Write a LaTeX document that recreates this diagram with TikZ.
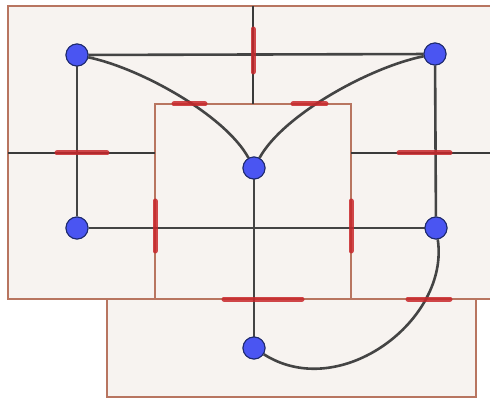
\documentclass[tikz,border=0pt]{standalone}
\begin{document}
\begin{tikzpicture}[x=1pt,y=-1pt,
  region/.style={fill=bgfill,draw=rectline,line width=1.1pt},
  thinline/.style={draw=thinc,line width=1.1pt},
  edge/.style={draw=edgec,line width=2.6pt},
  tick/.style={draw=tickc,line width=5pt,line cap=round,opacity=0.85},
  vtx/.style={circle,fill=vblue,draw=vborder,line width=1pt,minimum size=22pt,inner sep=0pt}]
\definecolor{bgfill}{HTML}{F7F3F0}
\definecolor{rectline}{HTML}{B87560}
\definecolor{thinc}{HTML}{3A3A3A}
\definecolor{edgec}{HTML}{444444}
\definecolor{tickc}{HTML}{C8272B}
\definecolor{vblue}{HTML}{4A55F2}
\definecolor{vborder}{HTML}{1E2A6E}
\useasboundingbox (0,0) rectangle (490,398);
\clip (0,0) rectangle (490,398);
% regions
\draw[region] (8,6) rectangle (500,299);
\draw[region] (107,299) rectangle (476,397);
\draw[region] (155,104) rectangle (351,299);
% thin boundary lines
\draw[thinline] (253,6) -- (253,104);
\draw[thinline] (8,153) -- (155,153);
\draw[thinline] (351,153) -- (500,153);
% vertices
\node[vtx] (A) at (77,55) {};
\node[vtx] (B) at (435,54) {};
\node[vtx] (C) at (254,168) {};
\node[vtx] (D) at (77,228) {};
\node[vtx] (E) at (436,228) {};
\node[vtx] (F) at (254,348) {};
% edges
\draw[edge] (A) -- (B);
\draw[edge] (A) -- (D);
\draw[edge] (B) -- (E);
\draw[edge] (D) -- (E);
\draw[edge] (C) -- (F);
\draw[edge] (A) .. controls (140,68) and (225,115) .. (C);
\draw[edge] (B) .. controls (370,67) and (283,115) .. (C);
\draw[edge] (E) .. controls (450,320) and (340,403) .. (F);
% red ticks
\draw[tick] (253,29) -- (253,72);
\draw[tick] (174,104) -- (205,104);
\draw[tick] (293,104) -- (326,104);
\draw[tick] (57,153) -- (107,153);
\draw[tick] (399,153) -- (450,153);
\draw[tick] (155,201) -- (155,251);
\draw[tick] (351,201) -- (351,251);
\draw[tick] (224,299) -- (302,299);
\draw[tick] (408,299) -- (450,299);
% vertices on top
\node[vtx] at (A) {};
\node[vtx] at (B) {};
\node[vtx] at (C) {};
\node[vtx] at (D) {};
\node[vtx] at (E) {};
\node[vtx] at (F) {};
\end{tikzpicture}
\end{document}
